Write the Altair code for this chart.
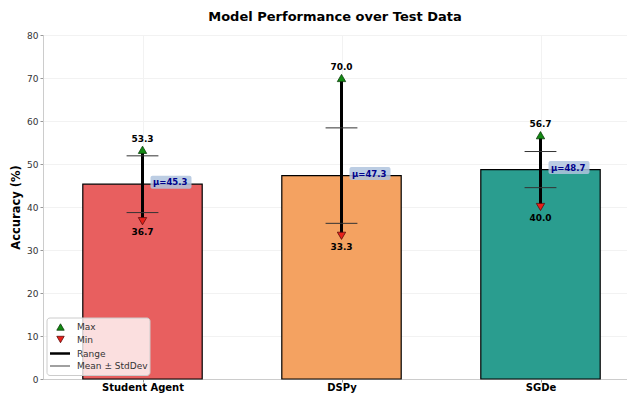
import altair as alt
import pandas as pd

models = ["Student Agent", "DSPy", "SGDe"]
means = [45.3, 47.3, 48.7]
stds = [6.6, 11.1, 4.2]
maxs = [53.3, 70.0, 56.7]
mins = [36.7, 33.3, 40.0]
colors = ["#e85f5f", "#f4a261", "#2a9d8f"]

BAR_HALF = 0.3
CAP_HALF = 0.08

df = pd.DataFrame({"model": models, "mean": means, "std": stds, "max": maxs, "min": mins})
df["idx"] = range(len(models))
df["left"] = df["idx"] - BAR_HALF
df["right"] = df["idx"] + BAR_HALF
df["cl"] = df["idx"] - CAP_HALF
df["cr"] = df["idx"] + CAP_HALF
df["lo"] = df["mean"] - df["std"]
df["hi"] = df["mean"] + df["std"]
df["zero"] = 0
df["max_label"] = [f"{v:.1f}" for v in maxs]
df["min_label"] = [f"{v:.1f}" for v in mins]
df["mu_label"] = [f"μ={v:.1f}" for v in means]

W, H = 584, 344
xs = alt.Scale(domain=[-0.5, -0.5 + W / 199.0], nice=False, zero=False)
ys = alt.Scale(domain=[0, 80], nice=False)

label_expr = "[" + ",".join(f"'{m}'" for m in models) + "][datum.value]"

base = alt.Chart(df)

bars = base.mark_rect(stroke="black", strokeWidth=1.2).encode(
    x=alt.X("left:Q", scale=xs, axis=alt.Axis(
        values=[0, 1, 2], labelExpr=label_expr, title=None, grid=True,
        gridColor="#f2f2f2", labelFontWeight="bold", labelFontSize=10,
        labelColor="black", tickColor="#999", tickSize=3, domainColor="#cccccc",
        labelPadding=0, labelFlush=False)),
    x2="right:Q",
    y=alt.Y("mean:Q", scale=ys, axis=alt.Axis(
        values=list(range(0, 81, 10)), title="Accuracy (%)", titleFontWeight="bold",
        titleFontSize=11.5, titleColor="black", titlePadding=5, grid=True,
        gridColor="#f2f2f2", labelFontSize=9, labelColor="#333", tickColor="#999",
        tickSize=3, domainColor="#cccccc")),
    y2="zero:Q",
    color=alt.Color("model:N", scale=alt.Scale(domain=models, range=colors), legend=None),
)

std_line = base.mark_rule(color="gray", strokeWidth=1.5).encode(
    x=alt.X("idx:Q", scale=xs), y=alt.Y("lo:Q", scale=ys), y2="hi:Q")

range_line = base.mark_rule(color="black", strokeWidth=3).encode(
    x=alt.X("idx:Q", scale=xs), y=alt.Y("min:Q", scale=ys), y2="max:Q")

cap_hi = base.mark_rule(color="#333", strokeWidth=1).encode(
    x=alt.X("cl:Q", scale=xs), x2="cr:Q", y=alt.Y("hi:Q", scale=ys))
cap_lo = base.mark_rule(color="#333", strokeWidth=1).encode(
    x=alt.X("cl:Q", scale=xs), x2="cr:Q", y=alt.Y("lo:Q", scale=ys))

max_pt = base.mark_point(shape="triangle-up", filled=True, size=70, fill="#138a13",
                         stroke="#0b3d0b", strokeWidth=0.8, opacity=1).encode(
    x=alt.X("idx:Q", scale=xs), y=alt.Y("max:Q", scale=ys))
min_pt = base.mark_point(shape="triangle-down", filled=True, size=70, fill="#e8201a",
                         stroke="#5a0d0d", strokeWidth=0.8, opacity=1).encode(
    x=alt.X("idx:Q", scale=xs), y=alt.Y("min:Q", scale=ys))

max_txt = base.mark_text(dy=-11, fontWeight="bold", fontSize=9, color="black",
                         font="DejaVu Sans").encode(
    x=alt.X("idx:Q", scale=xs), y=alt.Y("max:Q", scale=ys), text="max_label:N")
min_txt = base.mark_text(dy=11, fontWeight="bold", fontSize=9, color="black",
                         font="DejaVu Sans").encode(
    x=alt.X("idx:Q", scale=xs), y=alt.Y("min:Q", scale=ys), text="min_label:N")

mu_box = base.mark_rect(xOffset=8, x2Offset=49, yOffset=-8.5, y2Offset=4.5,
                        fill="#b0c4de", opacity=0.85, cornerRadius=2).encode(
    x=alt.X("idx:Q", scale=xs), x2="idx:Q", y=alt.Y("mean:Q", scale=ys), y2="mean:Q")
mu_txt = base.mark_text(align="left", baseline="middle", dx=10.5, dy=-2, fontWeight="bold",
                        fontSize=8.5, color="#00008b", font="DejaVu Sans").encode(
    x=alt.X("idx:Q", scale=xs), y=alt.Y("mean:Q", scale=ys), text="mu_label:N")

# manual legend
one = alt.Chart(pd.DataFrame({"k": [0]}))
leg_box = one.mark_rect(fill="white", fillOpacity=0.8, stroke="#cccccc", strokeWidth=1,
                        cornerRadius=3).encode(
    x=alt.value(4), x2=alt.value(107), y=alt.value(283), y2=alt.value(340.5))
leg_max = one.mark_point(shape="triangle-up", filled=True, size=55, fill="#138a13",
                         stroke="#0b3d0b", strokeWidth=0.8, opacity=1).encode(
    x=alt.value(17.5), y=alt.value(292))
leg_min = one.mark_point(shape="triangle-down", filled=True, size=55, fill="#e8201a",
                         stroke="#5a0d0d", strokeWidth=0.8, opacity=1).encode(
    x=alt.value(17.5), y=alt.value(304.5))
leg_range = one.mark_rule(color="black", strokeWidth=2.5).encode(
    x=alt.value(7), x2=alt.value(27), y=alt.value(318.5))
leg_std = one.mark_rule(color="gray", strokeWidth=1.5).encode(
    x=alt.value(7), x2=alt.value(27), y=alt.value(331))
leg_texts = []
for label, yy in zip(["Max", "Min", "Range", "Mean ± StdDev"], [292, 304.5, 318.5, 331]):
    leg_texts.append(one.mark_text(align="left", baseline="middle", fontSize=9,
                                   color="#333", font="DejaVu Sans").encode(
        x=alt.value(34), y=alt.value(yy), text=alt.value(label)))

chart = alt.layer(
    bars, std_line, range_line, cap_hi, cap_lo, max_pt, min_pt, max_txt, min_txt,
    mu_box, mu_txt, leg_box, leg_max, leg_min, leg_range, leg_std, *leg_texts
).properties(
    width=W, height=H,
    title=alt.Title("Model Performance over Test Data", fontSize=13, fontWeight="bold",
                    color="black", font="DejaVu Sans", anchor="middle", offset=7),
    autosize=alt.AutoSizeParams(type="none"),
    padding={"left": 35, "top": 27, "right": 0, "bottom": 14},
).configure_view(stroke=None).configure(font="DejaVu Sans")

chart.save("out.html", embed_options={"renderer": "svg", "actions": False})
